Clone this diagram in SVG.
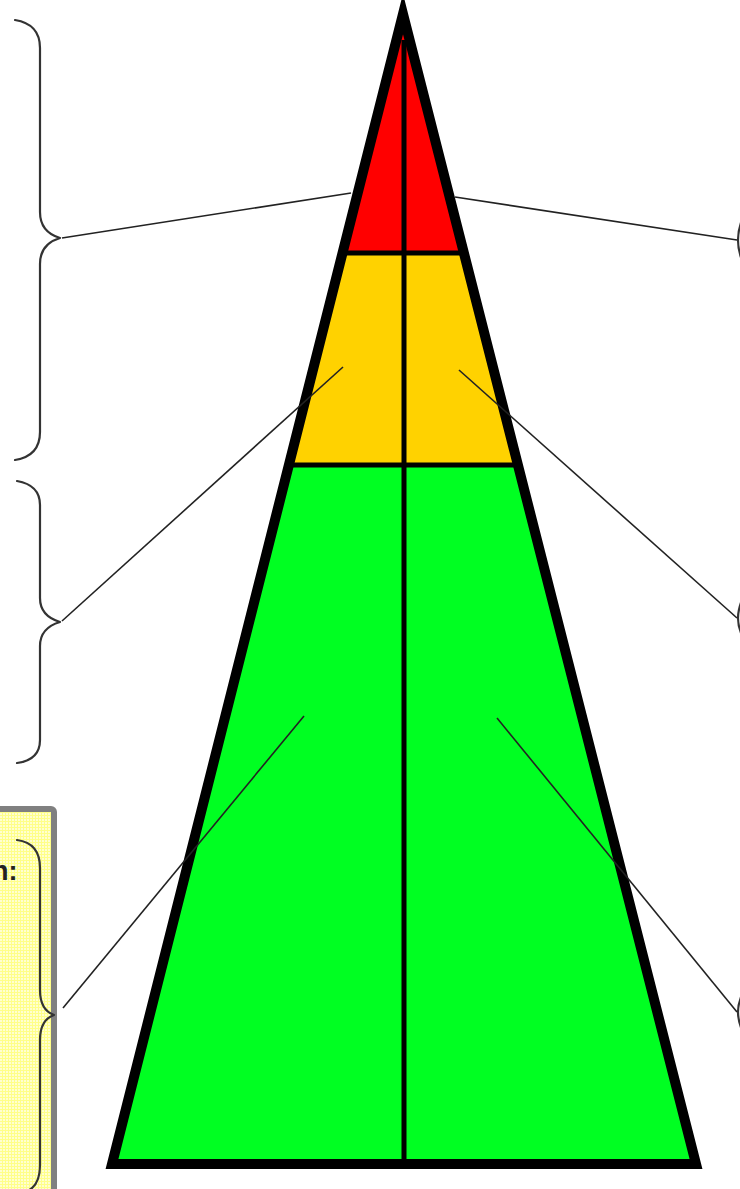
<svg xmlns="http://www.w3.org/2000/svg" width="740" height="1189" viewBox="0 0 740 1189">
<style>
.brace{fill:none;stroke:#333;stroke-width:2.2;stroke-linecap:round;stroke-linejoin:round}
.conn{fill:none;stroke:#222;stroke-width:1.6}
.div{stroke:#000;stroke-width:5}
</style>
<defs>
<pattern id="dots" width="3" height="3" patternUnits="userSpaceOnUse">
<rect width="3" height="3" fill="#ffff88"/>
<rect width="2" height="2" fill="#ffffd0"/>
</pattern>
</defs>
<g id="note-box">
<rect x="-6" y="809" width="60" height="390" rx="3" fill="url(#dots)" stroke="#808080" stroke-width="6"/>
<text x="-8" y="880" font-family="Liberation Sans, Arial, sans-serif" font-weight="bold" font-size="27" fill="#222">n:</text>
<path class="brace" d="M17,840 Q40,843 40,868 L40,990 Q40,1010 54,1015 Q40,1020 40,1040 L40,1165 Q40,1187 25,1192"/>
</g>
<g id="brace-left-1">
<path class="brace" d="M15,20 Q40,24 40,48 L40,212 Q40,232 60,238 Q40,244 40,264 L40,432 Q40,456 15,460"/>
</g>
<g id="brace-left-2">
<path class="brace" d="M17,481 Q40,485 40,505 L40,598 Q40,616 60,622 Q40,628 40,646 L40,740 Q40,760 17,763"/>
</g>
<g id="brace-right">
<path class="brace" d="M744,215 Q738,228 738,240 Q738,252 744,265"/>
<path class="brace" d="M744,595 Q738,608 738,618 Q738,628 744,640"/>
<path class="brace" d="M744,990 Q738,1002 738,1012 Q738,1022 744,1035"/>
</g>
<g id="pyramid">
<polygon points="403,14 112,1164 696,1164" fill="#00ff22"/>
<polygon points="403,14 342,251 464,251" fill="#ff0000"/>
<polygon points="342,251 464,251 518,465 288,465" fill="#ffd200"/>
<line class="div" x1="342" y1="253" x2="464" y2="253"/>
<line class="div" x1="288" y1="465" x2="518" y2="465"/>
<line class="div" x1="404" y1="40" x2="404" y2="1164"/>
<polygon points="403,14 112,1164 696,1164" fill="none" stroke="#000" stroke-width="10" stroke-linejoin="miter" stroke-miterlimit="20"/>
</g>
<g id="connectors">
<line class="conn" x1="351" y1="193" x2="62" y2="238"/>
<line class="conn" x1="455" y1="197" x2="737" y2="240"/>
<line class="conn" x1="343" y1="367" x2="62" y2="621"/>
<line class="conn" x1="459" y1="370" x2="737" y2="618"/>
<line class="conn" x1="304" y1="716" x2="63" y2="1008"/>
<line class="conn" x1="497" y1="718" x2="737" y2="1012"/>
</g>
</svg>
